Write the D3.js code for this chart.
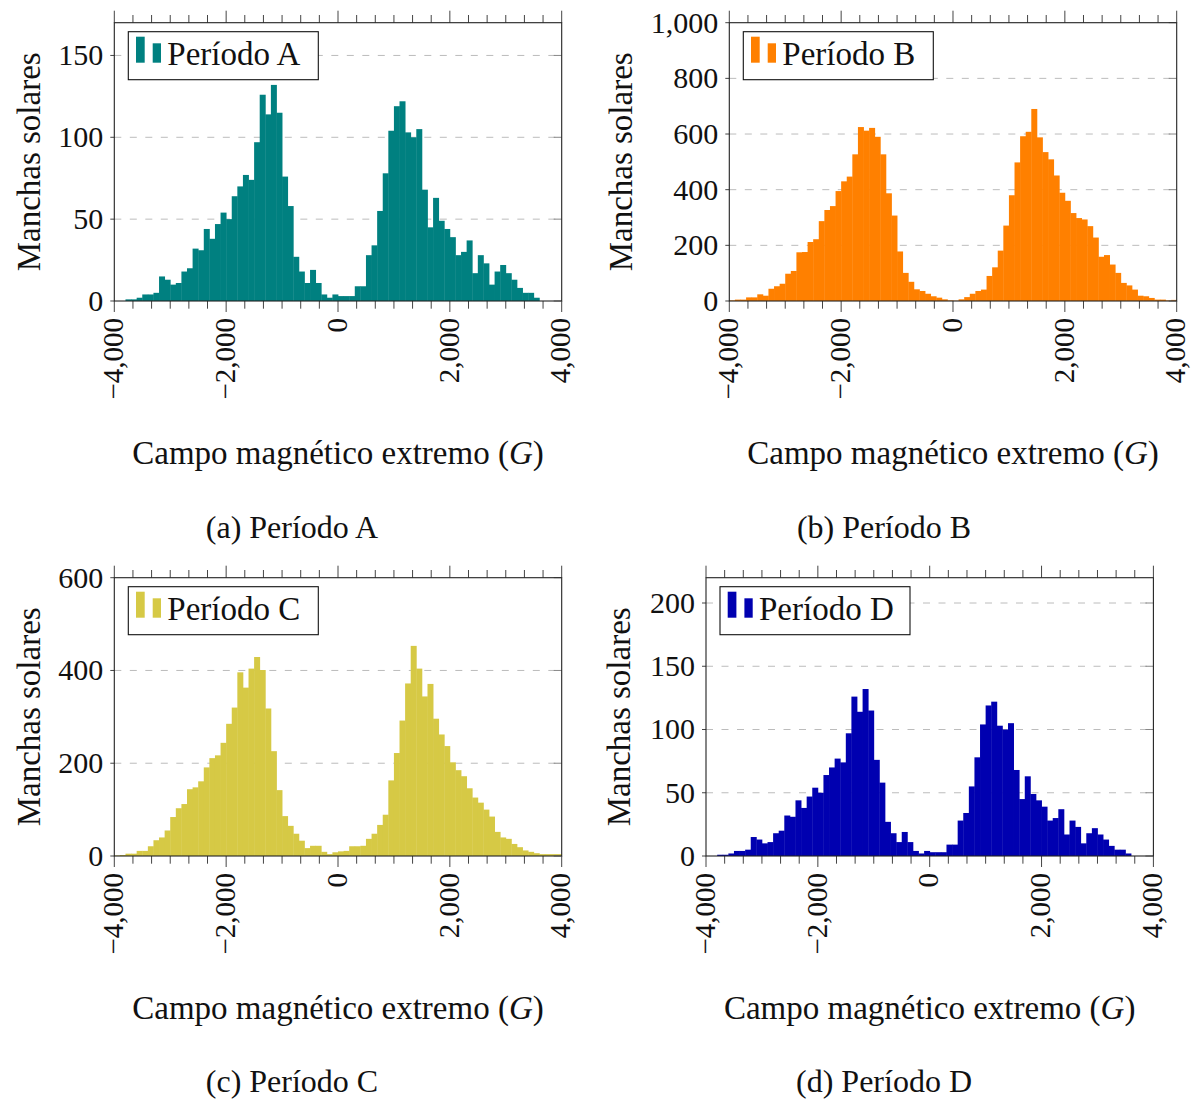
<!DOCTYPE html>
<html>
<head>
<meta charset="utf-8">
<script src="https://cdn.jsdelivr.net/npm/d3@7"></script>
<style>
  body { margin: 0; background: #fff; }
  text { font-family: "Liberation Serif", "DejaVu Serif", serif; fill: #111; }
</style>
</head>
<body>
<script>
// histogram bins: 100 G wide, from -4000 to 4000 (80 bins)
const binStart = -4000;
const binWidth = 100;

const countsA = [0, 0, 1, 1, 2, 4, 4, 5, 15, 13, 10, 11, 18, 20, 32, 31, 44, 38, 47, 54,
  50, 64, 70, 77, 74, 97, 126, 114, 132, 115, 76, 58, 27, 18, 11, 19, 11, 4, 2, 4,
  3, 3, 3, 9, 9, 28, 34, 55, 78, 104, 119, 122, 103, 100, 105, 68, 45, 63, 49, 44,
  39, 28, 30, 37, 17, 28, 23, 10, 18, 22, 17, 13, 8, 5, 5, 2, 0, 0, 0, 0];

const countsB = [2, 5, 5, 13, 13, 24, 19, 44, 53, 62, 98, 108, 175, 176, 212, 222, 287, 327, 341, 395,
  430, 447, 527, 625, 612, 622, 590, 527, 387, 307, 178, 101, 69, 42, 36, 26, 17, 12, 6, 2,
  1, 6, 14, 26, 36, 41, 90, 121, 181, 271, 380, 498, 592, 608, 690, 588, 535, 509, 451, 389,
  360, 316, 298, 293, 269, 228, 159, 165, 131, 101, 65, 56, 41, 19, 17, 11, 5, 5, 2, 4];

const countsC = [1, 2, 5, 5, 11, 11, 21, 34, 40, 55, 84, 103, 112, 144, 148, 161, 191, 211, 217, 244,
  285, 320, 396, 363, 404, 429, 401, 318, 226, 142, 86, 65, 48, 33, 17, 22, 22, 9, 4, 8,
  10, 11, 21, 21, 22, 37, 48, 67, 89, 163, 222, 292, 372, 453, 404, 344, 371, 296, 262, 237,
  202, 185, 172, 146, 126, 115, 100, 85, 52, 40, 37, 26, 19, 12, 9, 6, 4, 4, 4, 4];

const countsD = [0, 0, 1, 1, 2, 4, 4, 5, 15, 13, 10, 11, 18, 20, 32, 31, 44, 38, 47, 54,
  50, 64, 70, 77, 74, 97, 126, 114, 132, 115, 76, 58, 27, 18, 11, 19, 11, 4, 2, 4,
  3, 3, 3, 9, 9, 28, 34, 55, 78, 104, 119, 122, 103, 100, 105, 68, 45, 63, 49, 44,
  39, 28, 30, 37, 17, 28, 23, 10, 18, 22, 17, 13, 8, 5, 5, 2, 0, 0, 0, 0];

const xTicks = [-4000, -2000, 0, 2000, 4000];
const yTicksA = [0, 50, 100, 150];
const yTicksB = [0, 200, 400, 600, 800, 1000];
const yTicksC = [0, 200, 400, 600];
const yTicksD = [0, 50, 100, 150, 200];

const legendNames = ["Período A", "Período B", "Período C", "Período D"];
const captions = ["(a) Período A", "(b) Período B", "(c) Período C", "(d) Período D"];

const W = 1191, H = 1102;
const plotW = 447.4, plotH = 278.3;

const svg = d3.select("body")
  .append("svg")
    .attr("width", W)
    .attr("height", H);

svg.append("rect").attr("width", W).attr("height", H).attr("fill", "#fff");

const fmt = d3.format(",");

const drawPanel = (p) => {
  const g = svg.append("g")
      .attr("transform", "translate(" + p.left + "," + p.top + ")");

  const x = d3.scaleLinear().domain([-4000, 4000]).range([0, plotW]);
  const y = d3.scaleLinear().domain([0, p.yMax]).range([plotH, 0]);
  const bw = x(binStart + binWidth) - x(binStart);

  // dashed grid
  g.append("g")
    .selectAll("line")
    .data(p.yTicks.filter(v => v > 0 && v < p.yMax))
    .enter()
    .append("line")
      .attr("x1", 0).attr("x2", plotW)
      .attr("y1", d => y(d)).attr("y2", d => y(d))
      .attr("stroke", "#bcbcbc")
      .attr("stroke-width", 1)
      .attr("stroke-dasharray", "7,8.5");

  // bars (slight overlap so no seams show)
  g.append("g")
    .selectAll("rect")
    .data(p.values)
    .enter()
    .append("rect")
      .attr("x", (d, i) => x(binStart + i * binWidth))
      .attr("width", (d, i) => i < p.values.length - 1 ? bw + 0.4 : bw)
      .attr("y", d => y(d))
      .attr("height", d => plotH - y(d))
      .attr("fill", p.color);

  // minor + major x ticks, top and bottom, outside
  const minor = d3.range(0, 25).map(i => -4000 + i * 2000 / 6);
  const tk = g.append("g").attr("stroke", "#444").attr("stroke-width", 1);
  minor.forEach(v => {
    const major = xTicks.includes(Math.round(v));
    tk.append("line")
      .attr("x1", x(v)).attr("x2", x(v))
      .attr("y1", plotH).attr("y2", plotH + (major ? 11 : 7.7));
    tk.append("line")
      .attr("x1", x(v)).attr("x2", x(v))
      .attr("y1", 0).attr("y2", major ? -12 : -7.7);
  });
  // y ticks
  p.yTicks.forEach(v => {
    tk.append("line")
      .attr("x1", -4).attr("x2", 0)
      .attr("y1", y(v)).attr("y2", y(v));
    tk.append("line")
      .attr("x1", plotW - 8).attr("x2", plotW)
      .attr("y1", y(v)).attr("y2", y(v))
      .attr("stroke", "#888");
  });

  // frame
  g.append("rect")
    .attr("width", plotW)
    .attr("height", plotH)
    .attr("fill", "none")
    .attr("stroke", "#222")
    .attr("stroke-width", 1.1);

  // y tick labels
  g.append("g")
    .selectAll("text")
    .data(p.yTicks)
    .enter()
    .append("text")
      .attr("x", -11)
      .attr("y", d => y(d))
      .attr("dy", "0.33em")
      .attr("text-anchor", "end")
      .style("font-size", "30px")
      .text(d => fmt(d));

  // x tick labels, rotated
  g.append("g")
    .selectAll("text")
    .data(xTicks)
    .enter()
    .append("text")
      .attr("transform", d => "translate(" + x(d) + "," + (plotH + 17) + ") rotate(-90)")
      .attr("dy", "0.3em")
      .attr("text-anchor", "end")
      .style("font-size", "29px")
      .text(d => fmt(d));

  // axis titles
  const xl = g.append("text")
      .attr("x", plotW / 2)
      .attr("y", plotH + 163)
      .attr("text-anchor", "middle")
      .style("font-size", "33px");
  xl.append("tspan").text("Campo magnético extremo (");
  xl.append("tspan").style("font-style", "italic").text("G");
  xl.append("tspan").text(")");

  g.append("text")
      .attr("transform", "translate(" + p.yLabelX + "," + plotH / 2 + ") rotate(-90)")
      .attr("text-anchor", "middle")
      .style("font-size", "33px")
      .text("Manchas solares");

  // legend
  const lg = g.append("g").attr("transform", "translate(14,9)");
  lg.append("rect")
    .attr("width", 190).attr("height", 48)
    .attr("fill", "#fff").attr("stroke", "#111").attr("stroke-width", 1.1);
  lg.append("rect")
    .attr("x", 7.7).attr("y", 5).attr("width", 8.7).attr("height", 26)
    .attr("fill", p.color);
  lg.append("rect")
    .attr("x", 24.4).attr("y", 11.6).attr("width", 8.3).attr("height", 19.4)
    .attr("fill", p.color);
  lg.append("text")
    .attr("x", 39).attr("y", 33)
    .style("font-size", "33px")
    .text(p.name);

  // caption
  svg.append("text")
    .attr("x", p.capX)
    .attr("y", p.capY)
    .attr("text-anchor", "middle")
    .style("font-size", "32px")
    .text(p.caption);
};

const panels = [
  {values: countsA, color: "#008080", yMax: 170, yTicks: yTicksA, left: 114.3, top: 22.7, yLabelX: -74, capX: 292, capY: 538},
  {values: countsB, color: "#ff8000", yMax: 1000, yTicks: yTicksB, left: 729.3, top: 22.7, yLabelX: -97, capX: 884, capY: 538},
  {values: countsC, color: "#d6c945", yMax: 600, yTicks: yTicksC, left: 114.3, top: 577.7, yLabelX: -74, capX: 292, capY: 1092},
  {values: countsD, color: "#0000b0", yMax: 220, yTicks: yTicksD, left: 706, top: 577.7, yLabelX: -76, capX: 884, capY: 1092}
];

panels.forEach((p, i) => {
  p.name = legendNames[i];
  p.caption = captions[i];
  drawPanel(p);
});
</script>
</body>
</html>
